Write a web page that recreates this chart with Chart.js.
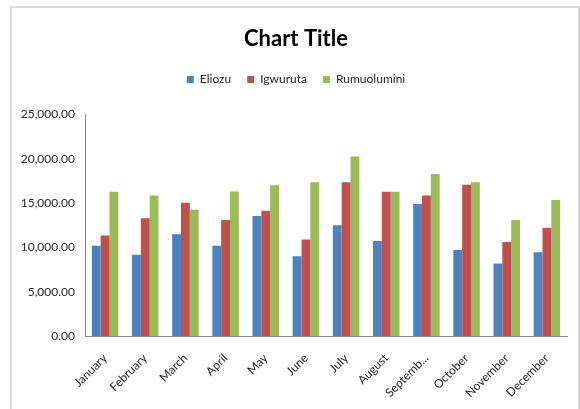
<!DOCTYPE html>
<html>
<head>
<meta charset="utf-8">
<title>Chart Title</title>
<script src="https://cdn.jsdelivr.net/npm/chart.js@4/dist/chart.umd.min.js"></script>
<style>
  html, body { margin: 0; padding: 0; background: #fff; }
  #wrap { width: 580px; height: 409px; position: relative; }
</style>
</head>
<body>
<div id="wrap"><canvas id="c" width="580" height="409"></canvas></div>
<script>
// Monthly values per area
const months = ['January', 'February', 'March', 'April', 'May', 'June',
                'July', 'August', 'September', 'October', 'November', 'December'];
const eliozu      = [10190, 9180, 11490, 10190, 13550, 8990, 12500, 10710, 14890, 9700, 8170, 9440];
const igwuruta    = [11340, 13280, 15040, 13100, 14140, 10900, 17350, 16270, 15860, 17050, 10600, 12200];
const rumuolumini = [16270, 15860, 14250, 16310, 17020, 17350, 20260, 16270, 18280, 17350, 13100, 15340];
const yTicks = [0, 5000, 10000, 15000, 20000, 25000];

Chart.defaults.font.family = 'Lato, "Open Sans", sans-serif';
Chart.defaults.color = '#262626';

// Light frame around the whole chart
const frame = {
  id: 'frame',
  beforeDraw(chart) {
    const ctx = chart.ctx;
    ctx.save();
    ctx.fillStyle = '#ffffff';
    ctx.fillRect(0, 0, chart.width, chart.height);
    ctx.strokeStyle = '#d9d9d9';
    ctx.lineWidth = 2;
    ctx.beginPath();
    ctx.moveTo(11, chart.height);
    ctx.lineTo(11, 7);
    ctx.lineTo(579, 7);
    ctx.lineTo(579, chart.height);
    ctx.stroke();
    ctx.restore();
  }
};

// Extra room between the legend row and the plot
const legendGap = {
  id: 'legendGap',
  beforeLayout(chart) {
    const lg = chart.legend;
    if (lg && !lg._gapWrapped) {
      const fit = lg.fit;
      lg.fit = function () { fit.call(this); this.height += 19; };
      lg._gapWrapped = true;
    }
  }
};

const fmt = v => Number(v).toLocaleString('en-US', { minimumFractionDigits: 2, maximumFractionDigits: 2 });

new Chart(document.getElementById('c'), {
  type: 'bar',
  data: {
    labels: months,
    datasets: [
      { label: 'Eliozu', data: eliozu, backgroundColor: '#4F81BD' },
      { label: 'Igwuruta', data: igwuruta, backgroundColor: '#C0504D' },
      { label: 'Rumuolumini', data: rumuolumini, backgroundColor: '#9BBB59' }
    ]
  },
  options: {
    responsive: false,
    animation: false,
    devicePixelRatio: 1,
    layout: { padding: { top: 0, left: 12, right: 0, bottom: 0 } },
    datasets: { bar: { categoryPercentage: 0.66, barPercentage: 1.0, borderWidth: 0 } },
    plugins: {
      title: {
        display: true,
        text: 'Chart Title',
        color: '#000',
        font: { size: 22, weight: 'bold', lineHeight: 1.2 },
        padding: { top: 26, bottom: 5 }
      },
      legend: {
        display: true,
        position: 'top',
        labels: { boxWidth: 7, boxHeight: 7, padding: 16, font: { size: 12 }, color: '#262626' }
      },
      tooltip: { enabled: false }
    },
    scales: {
      x: {
        grid: { display: false, drawTicks: false },
        border: { display: true, color: '#868686', width: 1 },
        ticks: {
          minRotation: 45, maxRotation: 45, padding: 15,
          font: { size: 12 }, color: '#262626',
          callback(v) {
            const s = this.getLabelForValue(v);
            return s.length > 8 ? s.slice(0, 7) + '...' : s;
          }
        },
        afterFit(scale) { scale.height = 73; }
      },
      y: {
        min: 0, max: 25000,
        grid: { display: false, drawTicks: false },
        border: { display: true, color: '#868686', width: 1 },
        afterBuildTicks(scale) { scale.ticks = yTicks.map(v => ({ value: v })); },
        ticks: { padding: 10, font: { size: 12 }, color: '#262626', callback: v => fmt(v) },
        afterFit(scale) { scale.width = 73; }
      },
      yRight: {
        position: 'right',
        display: true,
        grid: { display: false, drawTicks: false },
        border: { display: false },
        ticks: { display: false },
        afterFit(scale) { scale.width = 13; }
      }
    }
  },
  plugins: [frame, legendGap]
});
</script>
</body>
</html>
